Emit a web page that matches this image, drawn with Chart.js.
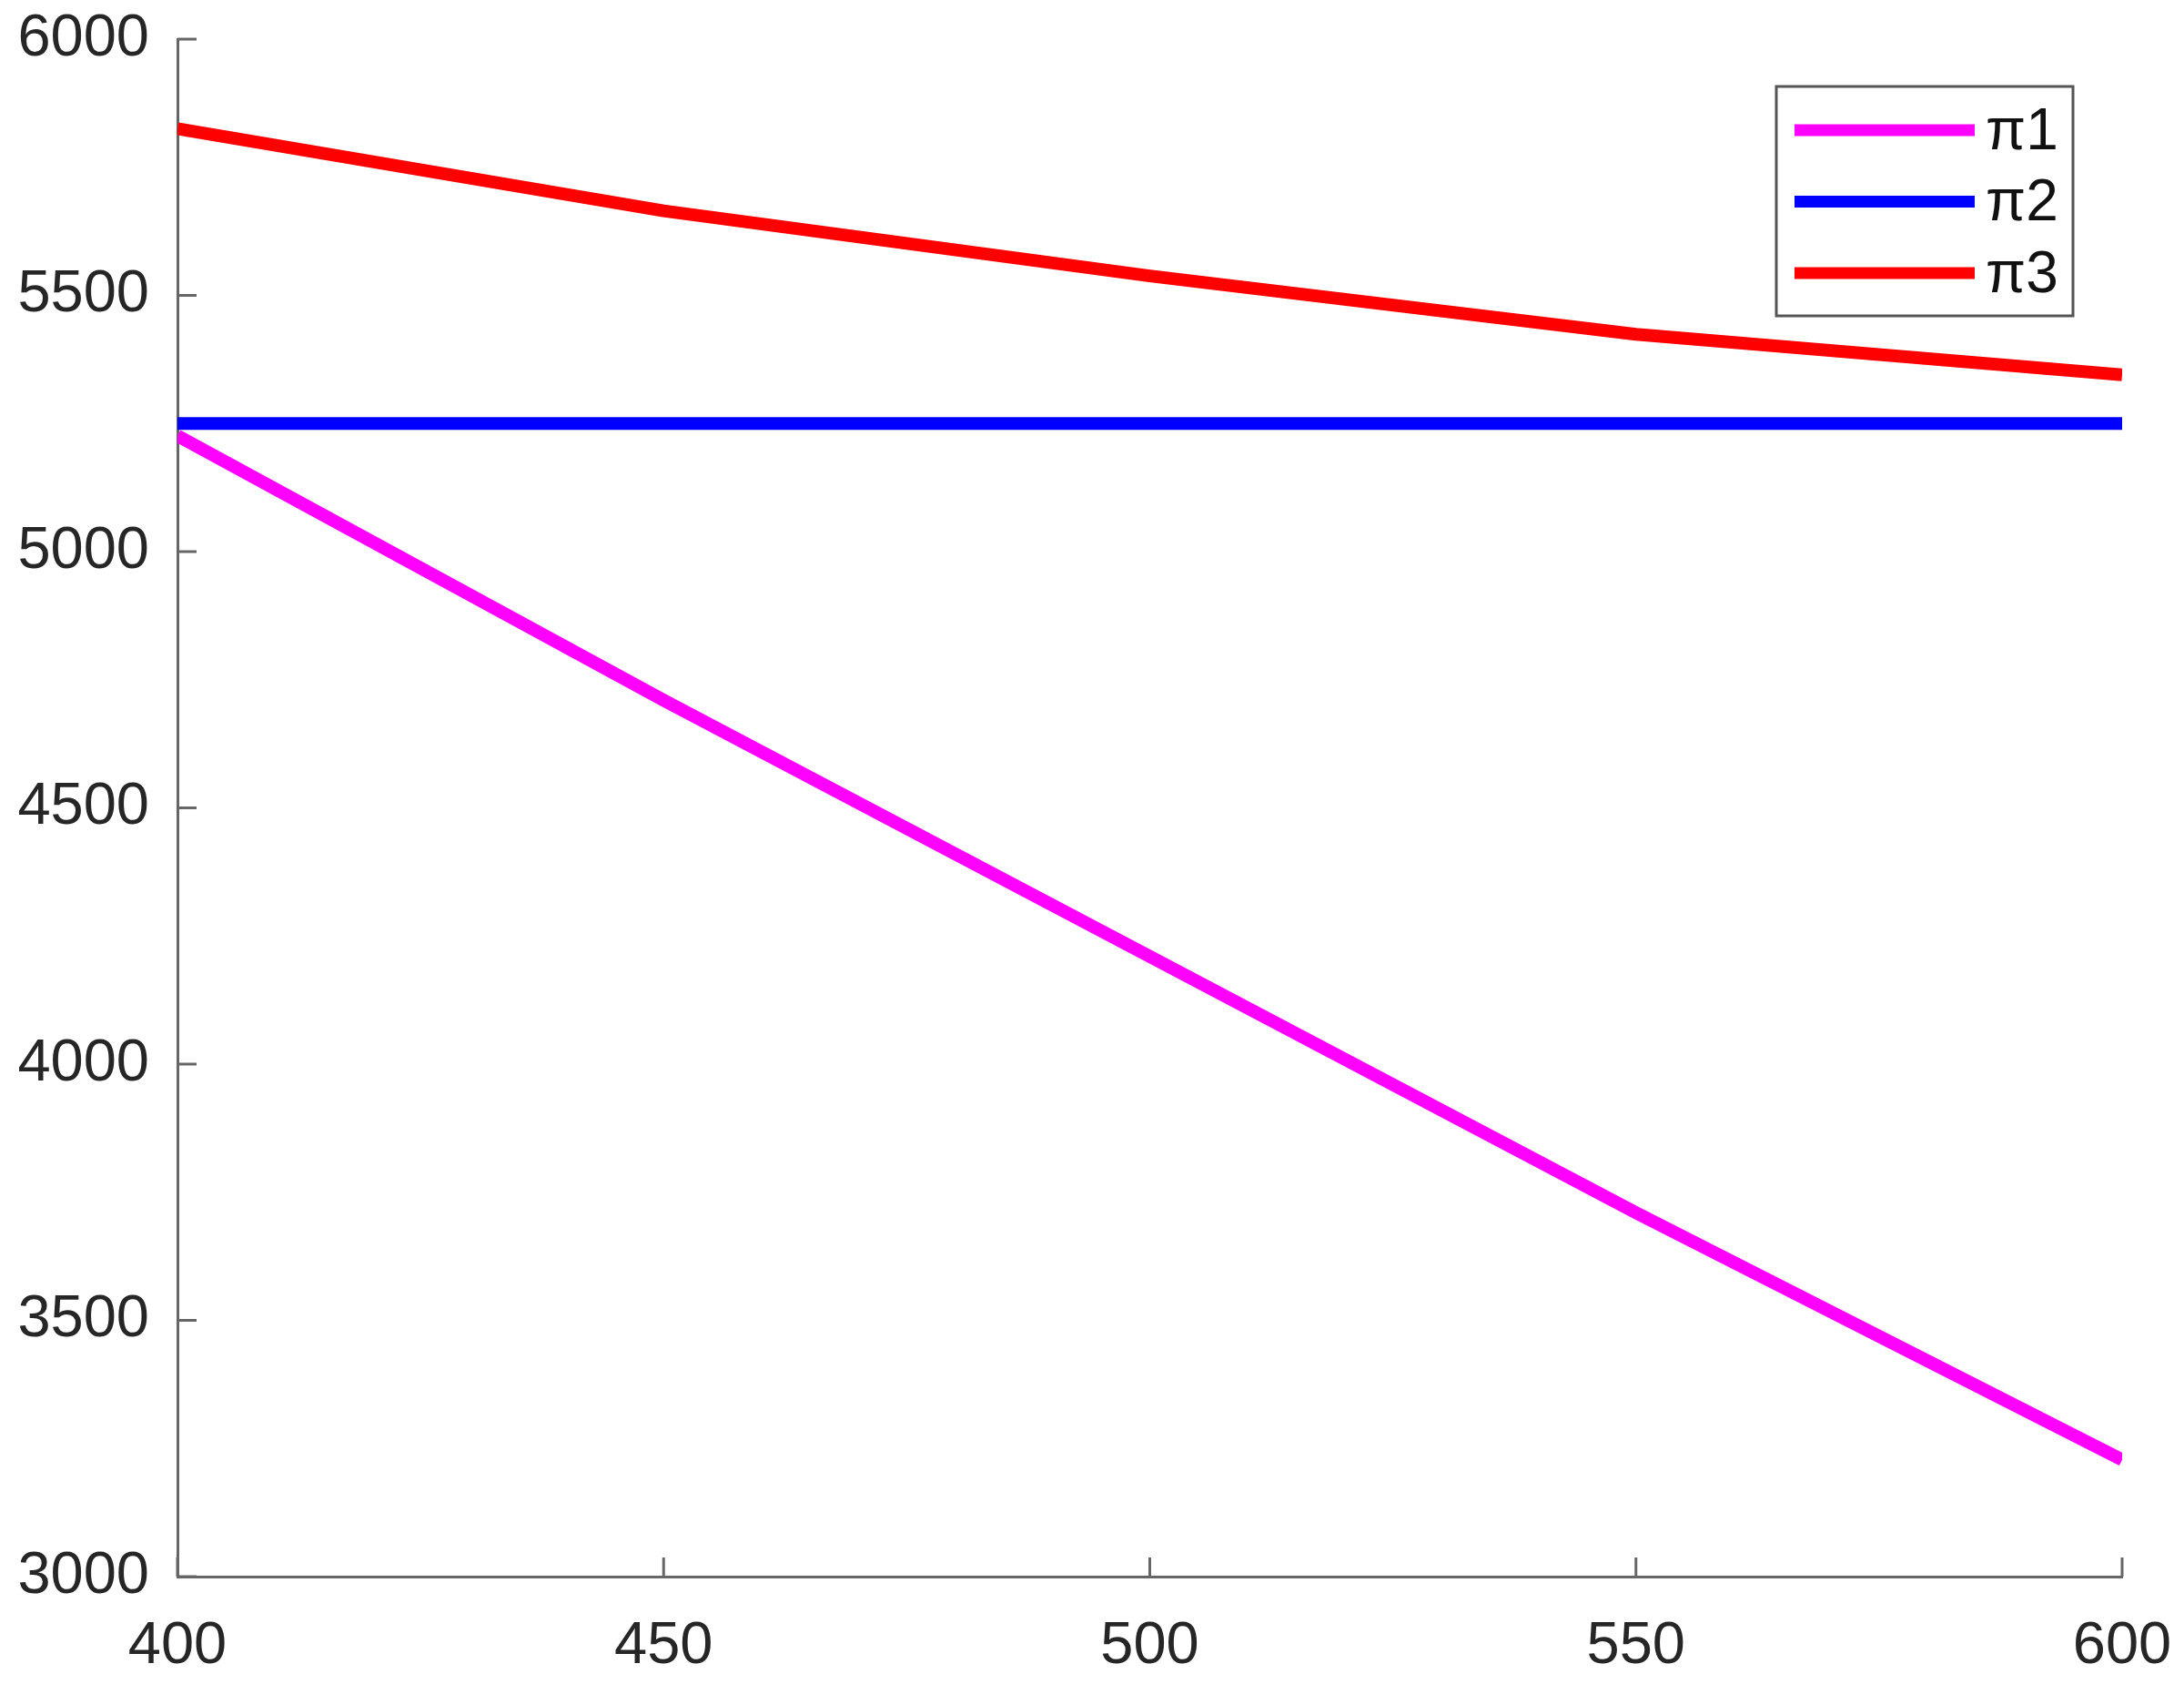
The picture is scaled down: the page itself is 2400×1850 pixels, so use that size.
<!DOCTYPE html>
<html>
<head>
<meta charset="utf-8">
<script src="https://cdn.jsdelivr.net/npm/chart.js@4.4.1/dist/chart.umd.min.js"></script>
<style>
html,body{margin:0;padding:0;background:#fff;}
#wrap{width:2400px;height:1850px;position:relative;}
</style>
</head>
<body>
<div id="wrap"><canvas id="c" width="2400" height="1850"></canvas></div>
<script>
const xValues = [400, 450, 500, 550, 600];
const pi1 = [5226, 4710, 4210, 3710, 3228];
const pi2 = [5250, 5250, 5250, 5250, 5250];
const pi3 = [5825, 5665, 5538, 5424, 5345];
const seriesLabels = ['π1', 'π2', 'π3'];
const seriesColors = ['#FF00FF', '#0000FF', '#FF0000'];
const xTicks = [400, 450, 500, 550, 600];
const yTicks = [3000, 3500, 4000, 4500, 5000, 5500, 6000];

const FONT = '"Liberation Sans", Arial, sans-serif';

function pts(ys){ return xValues.map((x,i)=>({x:x, y:ys[i]})); }

const inwardTicks = {
  id: 'inwardTicks',
  afterDatasetsDraw(chart){
    const ctx = chart.ctx, xs = chart.scales.x, ys = chart.scales.y, a = chart.chartArea;
    ctx.save();
    ctx.strokeStyle = '#666666';
    ctx.lineWidth = 3;
    const L = 21;
    xTicks.forEach(v=>{
      const px = xs.getPixelForValue(v);
      ctx.beginPath(); ctx.moveTo(px, a.bottom); ctx.lineTo(px, a.bottom - L); ctx.stroke();
    });
    yTicks.forEach(v=>{
      const py = ys.getPixelForValue(v);
      ctx.beginPath(); ctx.moveTo(a.left, py); ctx.lineTo(a.left + L, py); ctx.stroke();
    });
    ctx.restore();
  }
};

const boxLegend = {
  id: 'boxLegend',
  afterDraw(chart){
    const ctx = chart.ctx, a = chart.chartArea;
    const right = a.right - 54, top = a.top + 52;
    const w = 326, h = 252;
    const left = right - w;
    ctx.save();
    ctx.fillStyle = '#ffffff';
    ctx.fillRect(left, top, w, h);
    ctx.strokeStyle = '#555555';
    ctx.lineWidth = 3;
    ctx.strokeRect(left, top, w, h);
    chart.data.datasets.forEach((ds, i)=>{
      const y = top + 48 + i * 78.5;
      ctx.strokeStyle = ds.borderColor;
      ctx.lineWidth = 13;
      ctx.lineCap = 'butt';
      ctx.beginPath(); ctx.moveTo(left + 20, y); ctx.lineTo(left + 218, y); ctx.stroke();
      ctx.fillStyle = '#111111';
      ctx.font = '64px ' + FONT;
      ctx.textBaseline = 'middle';
      ctx.textAlign = 'left';
      ctx.fillText(ds.label, left + 230, y + 3);
    });
    ctx.restore();
  }
};

new Chart(document.getElementById('c'), {
  type: 'line',
  data: {
    datasets: [
      {label: seriesLabels[0], data: pts(pi1), borderColor: seriesColors[0]},
      {label: seriesLabels[1], data: pts(pi2), borderColor: seriesColors[1]},
      {label: seriesLabels[2], data: pts(pi3), borderColor: seriesColors[2]}
    ].map(d=>Object.assign(d,{borderWidth:14, pointRadius:0, tension:0, fill:false, borderCapStyle:'butt', borderJoinStyle:'round'}))
  },
  options: {
    responsive: false,
    animation: false,
    devicePixelRatio: 1,
    layout: {padding: {left: 0, right: 68, top: 43, bottom: 0}},
    plugins: {legend: {display: false}, tooltip: {enabled: false}},
    scales: {
      x: {
        type: 'linear', min: 400, max: 600,
        afterBuildTicks(s){ s.ticks = xTicks.map(v=>({value:v})); },
        afterFit(s){ s.height = 1850 - 1732; s.paddingLeft = 0; s.paddingRight = 0; },
        grid: {display: false},
        border: {display: true, color: '#666666', width: 3},
        ticks: {font: {size: 65, family: FONT}, color: '#262626', padding: 30, maxRotation: 0,
                callback: v => String(v)}
      },
      y: {
        type: 'linear', min: 3000, max: 6000,
        afterBuildTicks(s){ s.ticks = yTicks.map(v=>({value:v})); },
        afterFit(s){ s.width = 195; s.paddingTop = 0; s.paddingBottom = 0; },
        grid: {display: false},
        border: {display: true, color: '#666666', width: 3},
        ticks: {font: {size: 65, family: FONT}, color: '#262626', padding: 23,
                callback: v => String(v)}
      }
    }
  },
  plugins: [inwardTicks, boxLegend]
});
</script>
</body>
</html>
